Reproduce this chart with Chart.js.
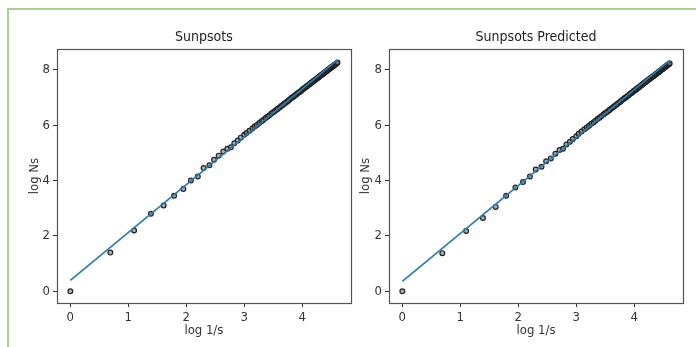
<!DOCTYPE html>
<html>
<head>
<meta charset="utf-8">
<script src="https://cdn.jsdelivr.net/npm/chart.js@4"></script>
<style>
  body { margin: 0; background: #fff; }
  #wrap { position: relative; width: 696px; height: 347px; overflow: hidden; background: #fff; }
  #frameLine { position: absolute; left: 7px; top: 8px; width: 720px; height: 400px;
    border-left: 2px solid #a9d18e; border-top: 2px solid #a9d18e; pointer-events: none; }
  canvas { position: absolute; top: 0; }
  #leftChart { left: 0; }
  #rightChart { left: 356px; }
</style>
</head>
<body>
<div id="wrap">
  <div id="frameLine"></div>
  <canvas id="leftChart" width="356" height="347"></canvas>
  <canvas id="rightChart" width="340" height="347"></canvas>
</div>
<script>
// log 1/s for every size class
const logInvS = [
  0.00, 0.69, 1.10, 1.39, 1.61, 1.79, 1.95, 2.08, 2.20, 2.30,
  2.40, 2.48, 2.56, 2.64, 2.71, 2.77, 2.83, 2.89, 2.94, 3.00,
  3.04, 3.09, 3.14, 3.18, 3.22, 3.26, 3.30, 3.33, 3.37, 3.40,
  3.43, 3.47, 3.50, 3.53, 3.56, 3.58, 3.61, 3.64, 3.66, 3.69,
  3.71, 3.74, 3.76, 3.78, 3.81, 3.83, 3.85, 3.87, 3.89, 3.91,
  3.93, 3.95, 3.97, 3.99, 4.01, 4.03, 4.04, 4.06, 4.08, 4.09,
  4.11, 4.13, 4.14, 4.16, 4.17, 4.19, 4.20, 4.22, 4.23, 4.25,
  4.26, 4.28, 4.29, 4.30, 4.32, 4.33, 4.34, 4.36, 4.37, 4.38,
  4.39, 4.41, 4.42, 4.43, 4.44, 4.45, 4.47, 4.48, 4.49, 4.50,
  4.51, 4.52, 4.53, 4.54, 4.55, 4.56, 4.57, 4.58, 4.60, 4.61
];

const sunspotsLogN = [
  0.00, 1.40, 2.20, 2.80, 3.10, 3.45, 3.70, 4.00, 4.15, 4.45,
  4.55, 4.75, 4.90, 5.05, 5.15, 5.20, 5.35, 5.45, 5.55, 5.65,
  5.72, 5.80, 5.88, 5.95, 6.01, 6.08, 6.14, 6.19, 6.26, 6.30,
  6.35, 6.42, 6.47, 6.51, 6.56, 6.59, 6.64, 6.69, 6.72, 6.77,
  6.80, 6.85, 6.88, 6.92, 6.97, 7.00, 7.03, 7.06, 7.09, 7.13,
  7.16, 7.19, 7.22, 7.26, 7.29, 7.32, 7.34, 7.37, 7.40, 7.42,
  7.45, 7.48, 7.50, 7.53, 7.55, 7.58, 7.60, 7.63, 7.64, 7.68,
  7.69, 7.72, 7.74, 7.76, 7.79, 7.80, 7.82, 7.85, 7.87, 7.89,
  7.90, 7.93, 7.95, 7.97, 7.98, 8.00, 8.03, 8.05, 8.06, 8.08,
  8.10, 8.11, 8.13, 8.14, 8.16, 8.18, 8.19, 8.21, 8.24, 8.26
];

const predictedLogN = [
  0.00, 1.38, 2.18, 2.65, 3.05, 3.45, 3.75, 3.95, 4.15, 4.40,
  4.50, 4.70, 4.80, 4.97, 5.10, 5.15, 5.30, 5.40, 5.50, 5.60,
  5.69, 5.77, 5.85, 5.92, 5.98, 6.05, 6.11, 6.16, 6.23, 6.27,
  6.32, 6.39, 6.44, 6.48, 6.53, 6.56, 6.61, 6.66, 6.69, 6.74,
  6.77, 6.82, 6.85, 6.89, 6.94, 6.97, 7.00, 7.03, 7.06, 7.10,
  7.13, 7.16, 7.19, 7.23, 7.26, 7.29, 7.31, 7.34, 7.37, 7.39,
  7.42, 7.45, 7.47, 7.50, 7.52, 7.55, 7.57, 7.60, 7.61, 7.65,
  7.66, 7.69, 7.71, 7.73, 7.76, 7.77, 7.79, 7.82, 7.84, 7.86,
  7.87, 7.90, 7.92, 7.94, 7.95, 7.97, 8.00, 8.02, 8.03, 8.05,
  8.07, 8.08, 8.10, 8.11, 8.13, 8.15, 8.16, 8.18, 8.21, 8.23
];

// fitted straight lines (end points)
const fitX = [0.00, 4.61];
const fitSunspotsY = [0.40, 8.36];
const fitPredictedY = [0.36, 8.34];

const xTicks = [0, 1, 2, 3, 4];
const yTicks = [0, 2, 4, 6, 8];

const fontFamily = "'DejaVu Sans Condensed', 'DejaVu Sans', sans-serif";
const tickFont = { family: fontFamily, size: 13 };

// matplotlib style closed box round the plot area
const framePlugin = {
    id: 'frame',
    afterDraw(chart) {
        const { ctx, chartArea: a } = chart;
        ctx.save();
        ctx.strokeStyle = '#555';
        ctx.lineWidth = 1.2;
        ctx.strokeRect(Math.round(a.left) + 0.5, Math.round(a.top) + 0.5,
            Math.round(a.right - a.left), Math.round(a.bottom - a.top));
        ctx.restore();
    }
};

function toPoints(xs, ys) {
    return xs.map((x, i) => ({ x: x, y: ys[i] }));
}

function makeChart(canvasId, titleText, ys, fitY, yAxisWidth, yTitlePad, padRight) {
    const ctx = document.getElementById(canvasId).getContext('2d');
    return new Chart(ctx, {
        type: 'scatter',
        data: {
            datasets: [
                {
                    type: 'line',
                    label: 'fit',
                    data: toPoints(fitX, fitY),
                    borderColor: '#2a7db0',
                    borderWidth: 1.7,
                    pointRadius: 0,
                    fill: false,
                    order: 0
                },
                {
                    label: 'data',
                    data: toPoints(logInvS, ys),
                    pointRadius: 2.4,
                    borderWidth: 1.2,
                    borderColor: '#222',
                    backgroundColor: 'rgba(120,120,120,0.6)',
                    order: 1
                }
            ]
        },
        options: {
            responsive: false,
            animation: false,
            layout: { padding: { left: 0, right: padRight, top: 0, bottom: 0 } },
            plugins: {
                legend: { display: false },
                tooltip: { enabled: false },
                title: {
                    display: true,
                    text: titleText,
                    fullSize: false,
                    color: '#222',
                    font: { family: fontFamily, size: 14, weight: 'normal' },
                    padding: { top: 29, bottom: 3.2 }
                }
            },
            scales: {
                x: {
                    type: 'linear',
                    min: -0.23,
                    max: 4.84,
                    afterBuildTicks: s => { s.ticks = xTicks.map(v => ({ value: v })); },
                    afterFit: s => { s.height = 44; },
                    grid: { drawOnChartArea: false, drawTicks: true, tickLength: 4, color: '#333' },
                    border: { color: '#555' },
                    ticks: { color: '#333', font: tickFont, padding: 3, maxRotation: 0 },
                    title: { display: true, text: 'log 1/s', color: '#333', font: tickFont, padding: { top: 0, bottom: 9 } }
                },
                y: {
                    type: 'linear',
                    min: -0.42,
                    max: 8.75,
                    afterBuildTicks: s => { s.ticks = yTicks.map(v => ({ value: v })); },
                    afterFit: s => { s.width = yAxisWidth; },
                    grid: { drawOnChartArea: false, drawTicks: true, tickLength: 4, color: '#333' },
                    border: { color: '#555' },
                    ticks: { color: '#333', font: tickFont, padding: 3 },
                    title: { display: true, text: 'log Ns', color: '#333', font: tickFont, padding: { top: yTitlePad, bottom: 0 } }
                }
            }
        },
        plugins: [framePlugin]
    });
}

makeChart('leftChart', 'Sunpsots', sunspotsLogN, fitSunspotsY, 57, 26.8, 5);
makeChart('rightChart', 'Sunpsots Predicted', predictedLogN, fitPredictedY, 33, 2.2, 13);
</script>
</body>
</html>
